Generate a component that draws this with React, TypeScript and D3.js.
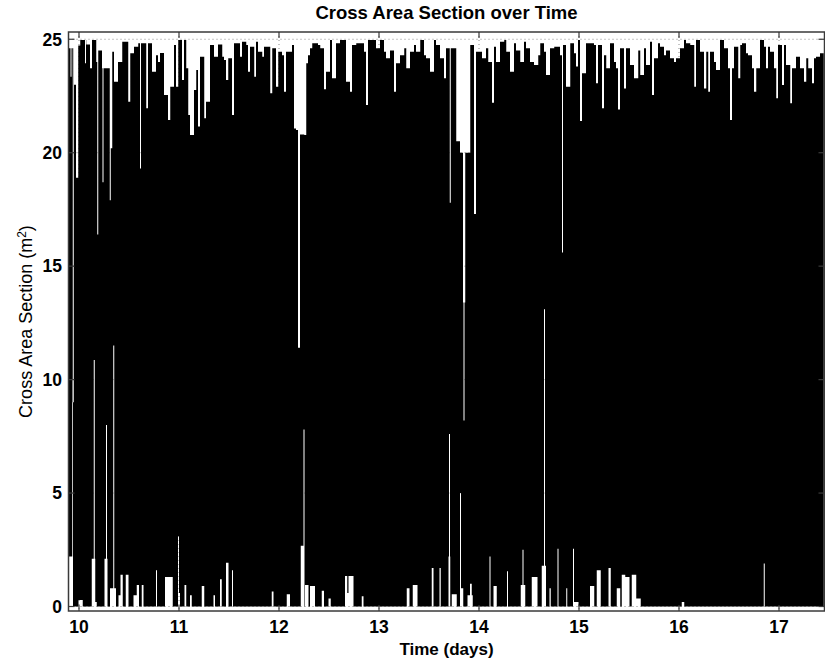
import React from "react";
import * as d3 from "d3";

const width = 825;
const height = 661;
const plot = { left: 68.5, right: 824.5, top: 32, bottom: 611 };

const xTicks = [10, 11, 12, 13, 14, 15, 16, 17];
const yTicks = [0, 5, 10, 15, 20, 25];

// upper envelope of the signal, one value every 0.02 day starting at day 9.90
const startDay = 9.9;
const stepDay = 0.02;
const peaks = [
  24.6, 24.6, 24.6, 23.0, 18.9, 24.72, 24.97, 24.97, 24.97, 24.77,
  24.77, 23.72, 24.97, 24.97, 24.0, 24.5, 24.5, 23.72, 23.72, 23.72,
  23.72, 20.2, 24.45, 23.13, 23.13, 24.0, 24.0, 24.89, 24.89, 24.89,
  22.25, 24.38, 24.38, 24.67, 24.67, 24.82, 24.82, 24.82, 24.82, 21.96,
  24.82, 24.82, 23.57, 23.57, 24.3, 24.0, 24.4, 24.4, 22.54, 22.54,
  21.44, 22.91, 22.91, 24.75, 22.91, 24.97, 24.97, 23.2, 24.97, 23.72,
  21.66, 20.78, 20.78, 22.76, 23.65, 21.15, 24.23, 24.23, 21.52, 22.25,
  22.25, 24.75, 24.75, 24.23, 24.23, 24.77, 24.77, 24.23, 24.09, 23.2,
  24.16, 24.16, 21.66, 24.82, 24.82, 24.82, 24.23, 24.89, 24.89, 24.75,
  23.57, 24.67, 24.67, 23.35, 24.89, 24.45, 24.45, 24.23, 24.67, 24.67,
  24.67, 22.62, 24.6, 24.6, 22.91, 24.45, 24.45, 24.3, 22.69, 24.45,
  24.45, 24.45, 24.75, 21.07, 21.0, 11.4, 20.8, 20.8,
  20.78, 23.94, 24.3, 24.6, 24.82, 24.82, 24.82, 24.75, 24.6, 24.6,
  22.8, 23.57, 23.57, 24.97, 23.28, 23.28, 24.82, 24.82, 24.97, 24.97,
  24.97, 23.13, 23.13, 22.69, 24.75, 24.75, 24.82, 24.82, 24.82, 24.82,
  24.45, 22.1, 24.97, 24.97, 24.97, 24.97, 24.6, 24.6, 24.97, 24.97,
  24.45, 24.16, 24.16, 24.5, 24.5, 22.69, 23.94, 23.94, 24.3, 24.3,
  24.6, 23.72, 23.72, 24.45, 24.45, 24.75, 24.45, 24.45, 24.97, 24.97,
  24.3, 24.16, 24.16, 23.57, 23.57, 24.97, 24.75, 24.75, 24.16, 24.16,
  23.28, 24.6, 24.6, 24.6, 24.6, 24.6, 20.5, 20.5, 20.0, 20.0,
  20.0, 20.0, 20.0, 24.75, 24.75, 17.3, 24.45, 24.45, 24.45, 24.16,
  24.16, 24.6, 24.0, 24.0, 22.2, 24.67, 24.0, 24.0, 24.89, 24.89,
  24.97, 24.45, 24.45, 23.57, 23.57, 24.82, 24.5, 24.5, 24.0, 24.0,
  24.89, 24.6, 24.6, 24.0, 24.0, 23.87, 23.87, 24.3, 24.82, 24.82,
  24.45, 23.42, 23.42, 24.6, 24.6, 24.67, 24.67, 24.67,
  24.3, 24.75, 24.75, 22.91, 22.91, 24.82, 24.82, 24.38, 23.8, 24.97,
  21.4, 23.5, 23.5, 24.82, 24.82, 24.82, 24.82, 24.75, 23.06, 24.75,
  24.75, 21.96, 24.3, 23.72, 23.72, 24.82, 24.82, 24.0, 23.72, 21.9,
  24.6, 24.6, 22.83, 24.6, 24.6, 23.87, 23.87, 23.28, 23.28, 24.5,
  23.42, 23.42, 24.6, 23.87, 23.87, 24.89, 22.54, 24.16, 24.16, 24.82,
  24.67, 24.67, 24.3, 24.5, 24.5, 24.16, 24.16, 24.0, 24.16, 24.16,
  24.6, 24.6, 24.97, 24.82, 24.82, 24.75, 24.75, 22.91, 24.97, 24.97,
  24.45, 24.45, 22.83, 24.45, 22.69, 24.45, 24.45, 24.0, 23.65, 23.65,
  24.97, 24.97, 24.6, 24.6, 23.72, 21.44, 23.72, 24.67, 24.67, 23.28,
  24.75, 24.82, 24.82, 24.38, 24.3, 24.3, 23.72, 22.69, 23.72, 23.72,
  24.97, 24.97, 24.67, 23.72, 24.67, 24.45, 24.45, 23.72, 22.4, 24.75,
  24.75, 22.98, 24.75, 23.87, 23.87, 22.18, 23.72, 23.72, 24.23, 24.23,
  23.72, 23.72, 23.13, 24.16, 23.72, 23.72, 23.06, 24.16, 24.23, 24.23,
  24.38, 24.38,
];

// short drops of the signal from the top
const dipDays = [9.92, 9.942, 10.065, 10.186, 10.239, 10.312, 10.615, 13.712, 13.843, 13.85, 13.857, 14.834];
const dipValues = [23.35, 9.0, 23.94, 16.4, 18.7, 17.9, 19.3, 17.8, 13.4, 8.2, 13.4, 15.6];

// short rises of the minimum above zero
const riseDays = [9.935, 10.151, 10.273, 10.347, 10.775, 10.995, 11.535, 12.249, 13.703, 13.815, 14.11, 14.285, 14.44, 14.654, 14.71, 14.788, 14.877, 14.945, 15.305, 16.85];
const riseValues = [10.0, 10.86, 8.0, 11.5, 1.6, 3.1, 1.6, 7.8, 7.6, 5.0, 2.2, 1.55, 2.5, 13.1, 0.8, 2.55, 0.8, 2.55, 1.7, 1.9];

// wider stretches where the minimum stays above zero
const floorFrom = [9.89, 9.993, 10.127, 10.16, 10.255, 10.31, 10.393, 10.415, 10.467, 10.543, 10.577, 10.627, 10.86, 10.993, 11.053, 11.11, 11.227, 11.343, 11.41, 11.47, 11.927, 12.077, 12.217, 12.26, 12.31, 12.427, 12.493, 12.66, 12.68, 12.695, 12.827, 13.277, 13.337, 13.527, 13.603, 13.693, 13.727, 13.82, 13.883, 13.91, 14.143, 14.417, 14.527, 14.627, 14.943, 15.11, 15.177, 15.293, 15.377, 15.427, 15.46, 15.527, 15.57, 16.027];
const floorTo = [9.937, 10.037, 10.16, 10.177, 10.283, 10.37, 10.427, 10.435, 10.493, 10.593, 10.6, 10.643, 10.937, 11.01, 11.07, 11.127, 11.25, 11.36, 11.427, 11.493, 11.943, 12.11, 12.25, 12.293, 12.36, 12.45, 12.517, 12.68, 12.695, 12.743, 12.843, 13.303, 13.383, 13.543, 13.617, 13.71, 13.777, 13.84, 13.937, 13.927, 14.177, 14.46, 14.583, 14.67, 14.993, 15.15, 15.217, 15.317, 15.41, 15.46, 15.503, 15.57, 15.617, 16.05];
const floorValues = [2.2, 0.29, 2.1, 0.2, 2.1, 0.8, 0.5, 1.4, 1.4, 0.5, 0.95, 0.95, 1.3, 0.6, 0.95, 0.5, 0.9, 0.5, 1.2, 1.93, 0.66, 0.54, 2.68, 0.95, 0.9, 0.7, 0.35, 1.35, 0.6, 1.35, 0.45, 0.8, 0.95, 1.7, 1.7, 2.2, 0.54, 0.8, 0.5, 1.0, 0.9, 0.95, 1.3, 1.8, 0.2, 0.9, 1.6, 1.7, 0.8, 1.4, 1.3, 1.4, 0.35, 0.2];

const font = "'Liberation Sans', Arial, Helvetica, sans-serif";

type Sample = { t: number; lo: number; hi: number };

function buildSamples(): Sample[] {
  const res = 0.0025;
  const t0 = startDay - stepDay / 2;
  const t1 = startDay + (peaks.length - 0.5) * stepDay;
  const n = Math.floor((t1 - t0) / res);
  const out: Sample[] = [];
  for (let k = 0; k <= n; k++) {
    const t = t0 + k * res;
    const i = Math.max(0, Math.min(peaks.length - 1, Math.round((t - startDay) / stepDay)));
    let hi = peaks[i];
    dipDays.forEach((d, j) => {
      if (Math.abs(t - d) <= 0.005) hi = Math.min(hi, dipValues[j]);
    });
    let lo = 0;
    floorFrom.forEach((f, j) => {
      if (t >= f && t <= floorTo[j]) lo = Math.max(lo, floorValues[j]);
    });
    riseDays.forEach((r, j) => {
      if (Math.abs(t - r) <= 0.005) lo = Math.max(lo, riseValues[j]);
    });
    out.push({ t, lo, hi });
  }
  return out;
}

export default function App() {
  const x = d3.scaleLinear().domain([9.895, 17.455]).range([plot.left, plot.right]);
  const y = d3.scaleLinear().domain([-0.198, 25.32]).range([plot.bottom, plot.top]);

  const samples = buildSamples();
  const area = d3
    .area<Sample>()
    .x((d) => x(d.t))
    .y0((d) => y(d.lo))
    .y1((d) => y(d.hi))
    .curve(d3.curveStepAfter);

  const tickLen = 6;
  const axisColor = "#3a3a3a";

  return (
    <div style={{ position: "absolute", left: 0, top: 0 }}>
      <svg width={width} height={height} style={{ display: "block", background: "#fff" }}>
        <defs>
          <clipPath id="plot-clip">
            <rect x={plot.left} y={plot.top} width={plot.right - plot.left} height={plot.bottom - plot.top} />
          </clipPath>
        </defs>

        {/* grid */}
        <g stroke="#8a8a8a" strokeWidth={1} strokeDasharray="1,3">
          {xTicks.map((t) => (
            <line key={"gx" + t} x1={x(t)} x2={x(t)} y1={plot.top} y2={plot.bottom} />
          ))}
          {yTicks.map((v) => (
            <line key={"gy" + v} x1={plot.left} x2={plot.right} y1={y(v)} y2={y(v)} />
          ))}
        </g>

        {/* signal */}
        <g clipPath="url(#plot-clip)">
          <path d={area(samples) || ""} fill="#000" stroke="none" />
        </g>

        {/* box and ticks */}
        <rect
          x={plot.left}
          y={plot.top}
          width={plot.right - plot.left}
          height={plot.bottom - plot.top}
          fill="none"
          stroke={axisColor}
          strokeWidth={1.5}
        />
        <g stroke={axisColor} strokeWidth={1.2}>
          {xTicks.map((t) => (
            <g key={"tx" + t}>
              <line x1={x(t)} x2={x(t)} y1={plot.bottom} y2={plot.bottom - tickLen} />
              <line x1={x(t)} x2={x(t)} y1={plot.top} y2={plot.top + tickLen} />
            </g>
          ))}
          {yTicks.map((v) => (
            <g key={"ty" + v}>
              <line x1={plot.left} x2={plot.left + tickLen} y1={y(v)} y2={y(v)} />
              <line x1={plot.right} x2={plot.right - tickLen} y1={y(v)} y2={y(v)} />
            </g>
          ))}
        </g>

        {/* tick labels */}
        <g fontFamily={font} fontSize={17.5} fontWeight="bold" fill="#000">
          {xTicks.map((t) => (
            <text key={"lx" + t} x={x(t)} y={633} textAnchor="middle">
              {t}
            </text>
          ))}
          {yTicks.map((v) => (
            <text key={"ly" + v} x={62} y={y(v)} dy="0.36em" textAnchor="end">
              {v}
            </text>
          ))}
        </g>

        {/* title and axis labels */}
        <text x={(plot.left + plot.right) / 2} y={19} textAnchor="middle" fontFamily={font} fontSize={18.5} fontWeight="bold">
          Cross Area Section over Time
        </text>
        <text x={(plot.left + plot.right) / 2} y={655} textAnchor="middle" fontFamily={font} fontSize={17} fontWeight="bold">
          Time (days)
        </text>
        <text
          transform={`translate(32, ${(plot.top + plot.bottom) / 2}) rotate(-90)`}
          textAnchor="middle"
          fontFamily={font}
          fontSize={18}
        >
          Cross Area Section (m<tspan dy="-6" fontSize={12}>2</tspan>
          <tspan dy="6">)</tspan>
        </text>
      </svg>
    </div>
  );
}
